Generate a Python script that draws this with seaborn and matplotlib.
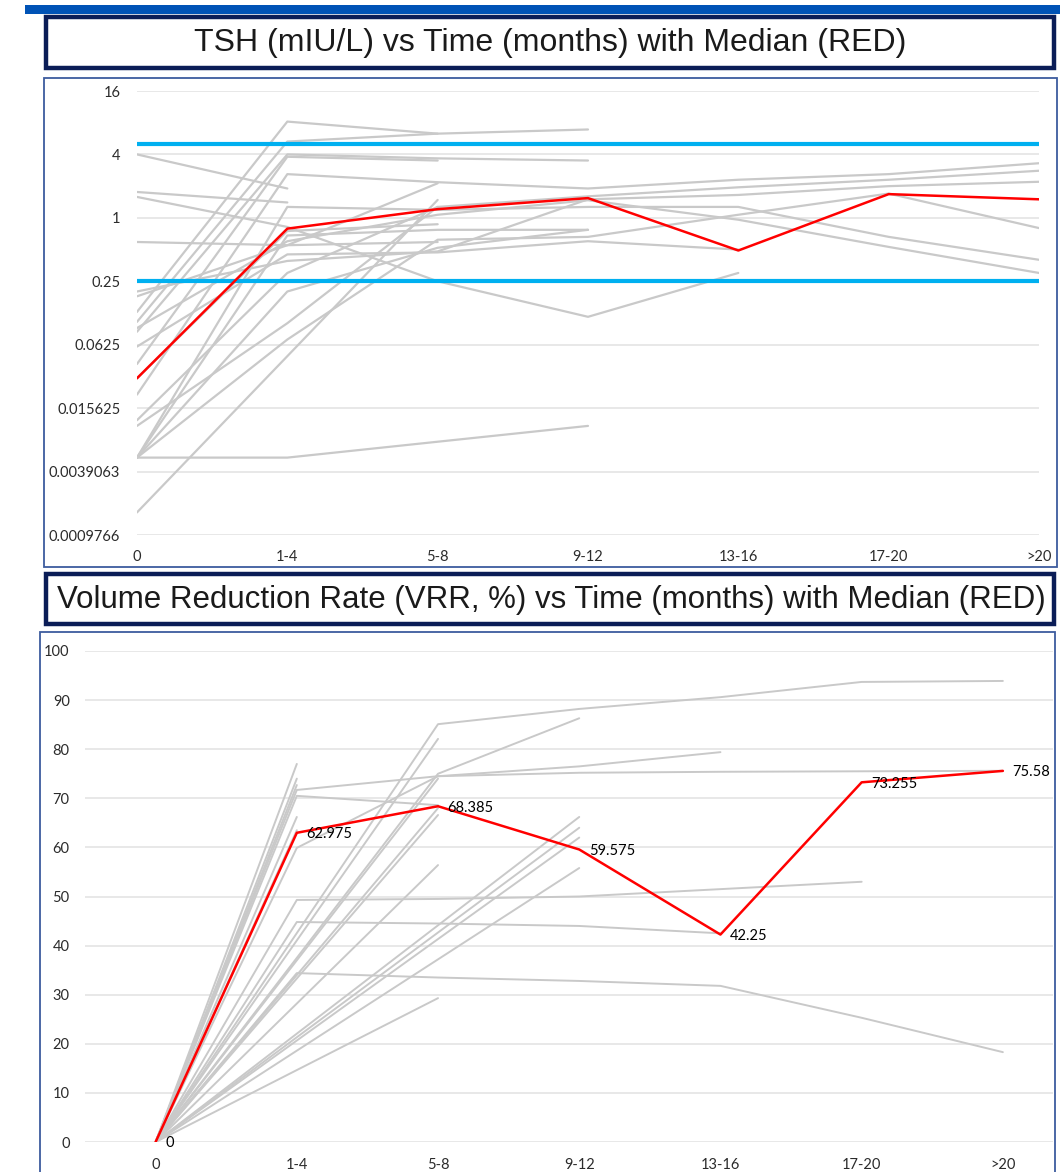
import numpy as np
import pandas as pd
import matplotlib
matplotlib.use("Agg")
import matplotlib.pyplot as plt
from matplotlib.patches import Rectangle
from matplotlib.ticker import NullLocator
import seaborn as sns

W, H = 1060, 1172
nan = np.nan

TIME_LABELS = ["0", "1-4", "5-8", "9-12", "13-16", "17-20", ">20"]

# TSH (mIU/L) per patient, one list per patient, nan = no visit
TSH_PATIENTS = [
    [4.0, 1.9, nan, nan, nan, nan, nan],
    [1.76, 1.4, nan, nan, nan, nan, nan],
    [1.58, 0.82, 0.25, 0.115, 0.30, nan, nan],
    [0.59, 0.55, 0.59, nan, nan, nan, nan],
    [0.20, 0.39, 0.48, 1.5, 1.65, 2.0, 2.2],
    [0.128, 8.2, 6.3, nan, nan, nan, nan],
    [0.103, 5.3, 6.3, 6.9, nan, nan, nan],
    [0.083, 4.0, 3.67, 3.5, nan, nan, nan],
    [0.041, 3.8, 3.5, nan, nan, nan, nan],
    [0.021, 2.6, 2.18, 1.9, 2.3, 2.6, 3.3],
    [0.0106, 0.10, 1.27, 1.6, 1.95, 2.3, 2.8],
    [0.0053, 0.0053, 0.0075, 0.0106, nan, nan, nan],
    [0.0053, 0.07, 0.62, 0.66, 1.07, 1.7, 0.8],
    [0.0053, 1.27, 1.19, 1.27, 1.27, 0.66, 0.40],
    [0.0053, 0.68, 0.77, 0.77, nan, nan, nan],
    [0.0016, nan, 1.48, nan, nan, nan, nan],
    [0.09, 0.6, 1.07, 1.47, 0.96, 0.53, 0.30],
    [0.06, 0.45, 0.47, 0.6, 0.5, nan, nan],
    [0.18, 0.55, 2.13, nan, nan, nan, nan],
    [0.0053, 0.2, 0.52, 0.77, nan, nan, nan],
    [0.03, 0.75, 0.87, nan, nan, nan, nan],
    [0.012, 0.3, 1.27, nan, nan, nan, nan],
]
TSH_MEDIAN = [0.030, 0.79, 1.21, 1.54, 0.49, 1.68, 1.50]
TSH_NORMAL = [0.25, 5.0]
TSH_TICKS = [2.0 ** k for k in range(-10, 5, 2)]
TSH_TICK_LABELS = ["0.0009766", "0.0039063", "0.015625", "0.0625", "0.25", "1", "4", "16"]

# volume reduction rate (%) per patient
VRR_PATIENTS = [
    [0, 77.0, nan, nan, nan, nan, nan],
    [0, 74.0, nan, nan, nan, nan, nan],
    [0, 72.7, nan, nan, nan, nan, nan],
    [0, 71.7, 74.5, 75.2, 75.4, 75.5, 75.6],
    [0, 70.5, 68.6, nan, nan, nan, nan],
    [0, 66.2, nan, nan, nan, nan, nan],
    [0, 59.9, 74.5, 76.5, 79.4, nan, nan],
    [0, 49.3, 49.5, 50.0, 51.5, 53.0, nan],
    [0, 44.8, 44.5, 44.0, 42.5, nan, nan],
    [0, 34.4, 33.5, 32.8, 31.8, 25.3, 18.3],
    [0, nan, 85.1, 88.2, 90.6, 93.7, 93.9],
    [0, nan, 82.1, nan, nan, nan, nan],
    [0, nan, 75.0, 86.3, nan, nan, nan],
    [0, nan, 66.6, nan, nan, nan, nan],
    [0, nan, 56.4, nan, nan, nan, nan],
    [0, nan, 29.3, nan, nan, nan, nan],
    [0, nan, nan, 66.2, nan, nan, nan],
    [0, nan, nan, 64.0, nan, nan, nan],
    [0, nan, nan, 62.0, nan, nan, nan],
    [0, nan, nan, 55.8, nan, nan, nan],
    [0, nan, 74.0, nan, nan, nan, nan],
    [0, 63.5, nan, nan, nan, nan, nan],
    [0, nan, 68.0, nan, nan, nan, nan],
]
VRR_MEDIAN = [0, 62.975, 68.385, 59.575, 42.25, 73.255, 75.58]
VRR_TICKS = list(range(0, 101, 10))


def to_long(rows):
    recs = []
    for pid, row in enumerate(rows):
        for t, v in enumerate(row):
            if not np.isnan(v):
                recs.append((pid, t, v))
    return pd.DataFrame(recs, columns=["pid", "t", "v"])


def fx(x):
    return x / W


def fy(y):
    return 1 - y / H


def box(x0, y0, x1, y1, **kw):
    fig.patches.append(Rectangle((fx(x0), fy(y1)), fx(x1) - fx(x0), fy(y0) - fy(y1),
                                 transform=fig.transFigure, **kw))


def style_axis(ax, ypad, xpad):
    ax.set_facecolor("none")
    ax.grid(axis="y", color="#e4e4e4", lw=1.2)
    ax.grid(axis="x", visible=False)
    ax.set_axisbelow(True)
    for s in ax.spines.values():
        s.set_visible(False)
    ax.tick_params(axis="y", length=0, pad=ypad, labelsize=10.5, labelcolor="#2b2b2b")
    ax.tick_params(axis="x", length=0, pad=xpad, labelsize=10.5, labelcolor="#2b2b2b")
    ax.set_xlabel("")
    ax.set_ylabel("")


sns.set_theme(style="white")
plt.rcParams["font.family"] = ["Lato", "DejaVu Sans"]

fig = plt.figure(figsize=(W / 100, H / 100), dpi=100)
fig.patch.set_facecolor("white")

TITLE_FONT = ["Liberation Sans", "DejaVu Sans"]
FRAME = "#3d5c9e"
NAVY = "#0b1d57"

# decorations
box(25, 5, 1060, 14, facecolor="#0053b6", edgecolor="none")
box(46, 17, 1054, 68, facecolor="white", edgecolor=NAVY, lw=3.2)
box(44, 78, 1057, 567, facecolor="none", edgecolor=FRAME, lw=1.3)
box(46, 574, 1054, 624, facecolor="white", edgecolor=NAVY, lw=3.2)
box(40, 632, 1055, 1200, facecolor="none", edgecolor=FRAME, lw=1.3)

fig.text(fx(550), fy(43), "TSH (mIU/L) vs Time (months) with Median (RED)",
         ha="center", va="center", fontsize=23, family=TITLE_FONT, color="#1a1a1a")
fig.text(fx(551), fy(600), "Volume Reduction Rate (VRR, %) vs Time (months) with Median (RED)",
         ha="center", va="center", fontsize=22.5, family=TITLE_FONT, color="#1a1a1a")

# ── TSH panel ─────────────────────────────────────────────
ax1 = fig.add_axes([fx(137), fy(535), (1039 - 137) / W, (535 - 91) / H])
ax1.set_yscale("log", base=2)
tsh = to_long(TSH_PATIENTS)
sns.lineplot(data=tsh, x="t", y="v", units="pid", estimator=None, color="#c9c9c9",
             lw=1.6, ax=ax1, legend=False)
for lvl in TSH_NORMAL:
    ax1.axhline(lvl, color="#00b0f0", lw=3, zorder=3)
sns.lineplot(x=list(range(len(TSH_MEDIAN))), y=TSH_MEDIAN, color="#ff0000", lw=1.8,
             ax=ax1, zorder=4)
ax1.set_xlim(0, 6)
ax1.set_ylim(2.0 ** -10, 2.0 ** 4)
ax1.set_yticks(TSH_TICKS, TSH_TICK_LABELS)
ax1.yaxis.set_minor_locator(NullLocator())
ax1.set_xticks(range(len(TIME_LABELS)), TIME_LABELS)
style_axis(ax1, ypad=12, xpad=11)

# ── VRR panel ─────────────────────────────────────────────
ax2 = fig.add_axes([fx(85), fy(1142), (1053 - 85) / W, (1142 - 651) / H])
vrr = to_long(VRR_PATIENTS)
sns.lineplot(data=vrr, x="t", y="v", units="pid", estimator=None, color="#c9c9c9",
             lw=1.4, ax=ax2, legend=False)
sns.lineplot(x=list(range(len(VRR_MEDIAN))), y=VRR_MEDIAN, color="#ff0000", lw=1.8,
             ax=ax2, zorder=4)
for t, v in enumerate(VRR_MEDIAN):
    ax2.annotate(f"{v:g}", (t, v), xytext=(7, -1), textcoords="offset points",
                 ha="left", va="center", fontsize=10.5, color="black", zorder=5)
ax2.set_xlim(-0.5, 6.355)
ax2.set_ylim(0, 100)
ax2.set_yticks(VRR_TICKS, [str(v) for v in VRR_TICKS])
ax2.set_xticks(range(len(TIME_LABELS)), TIME_LABELS)
style_axis(ax2, ypad=11, xpad=11.5)

fig.savefig("out.png", dpi=100)
